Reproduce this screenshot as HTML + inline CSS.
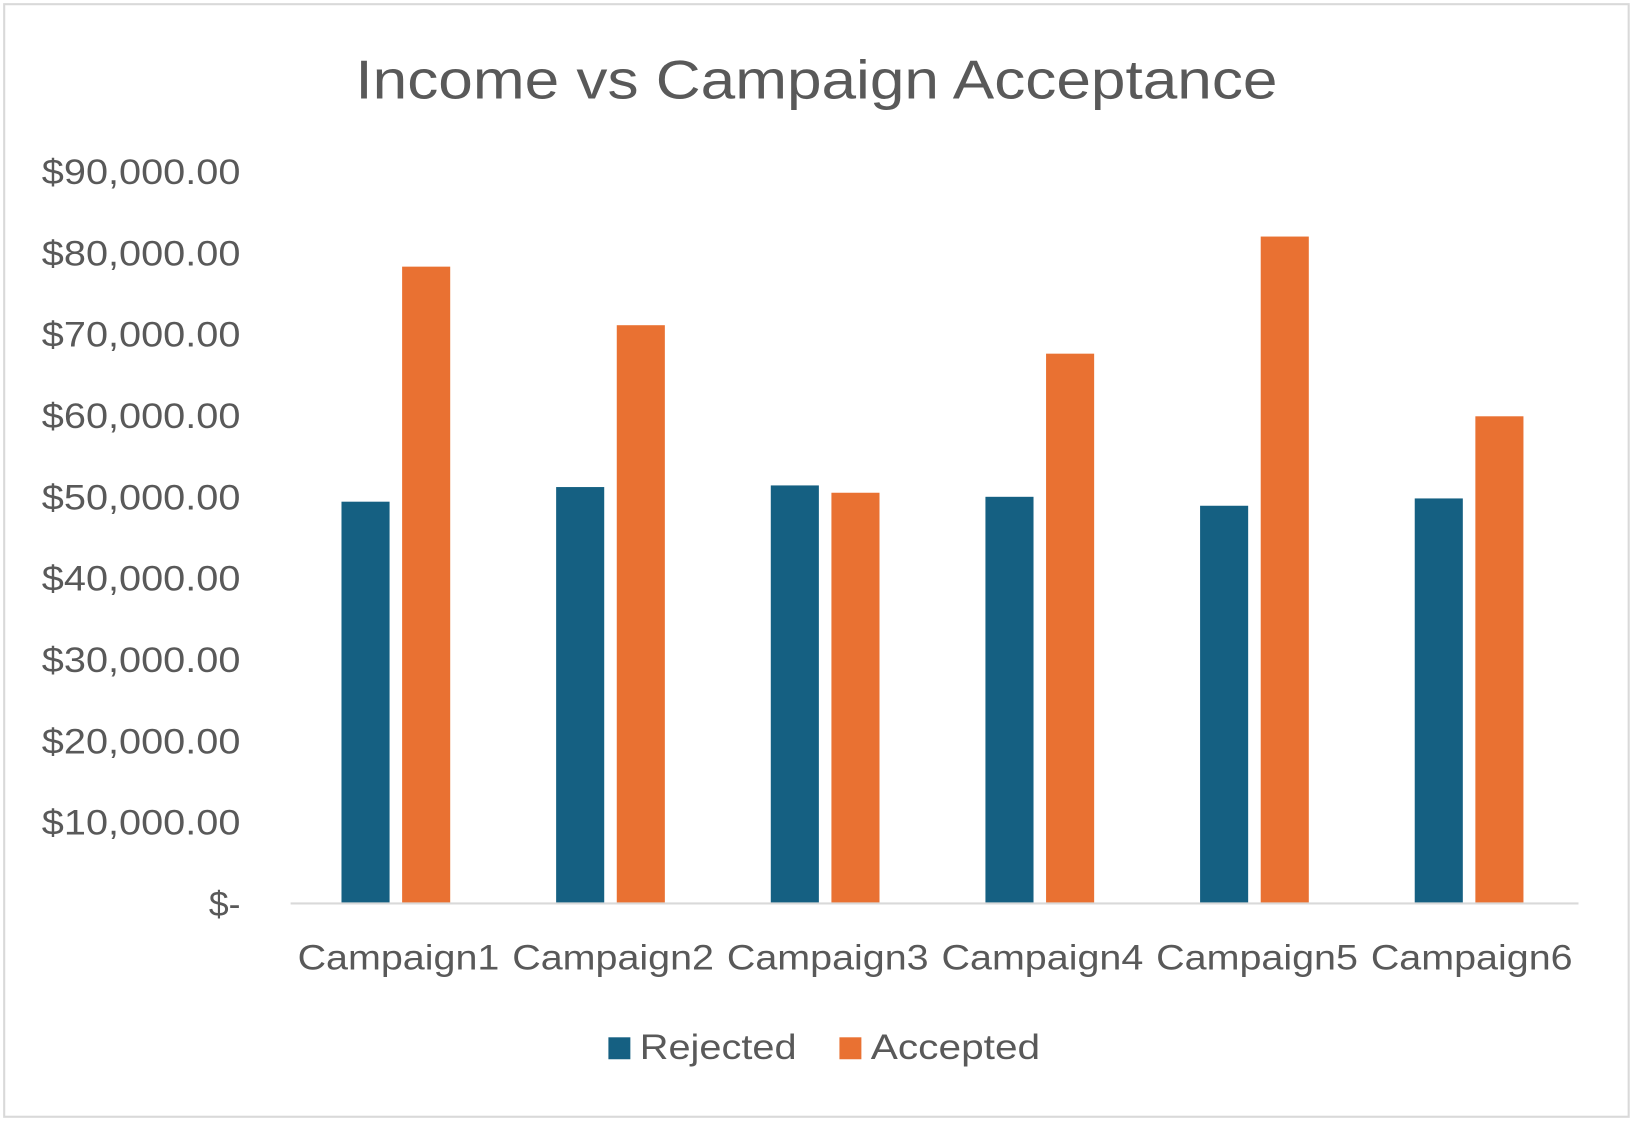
<!DOCTYPE html>
<html><head><meta charset="utf-8"><style>
html,body{margin:0;padding:0;background:#fff;}
svg{display:block;}
text{font-family:"Liberation Sans",sans-serif;fill:#595959;}
</style></head><body>
<svg id="chart" width="1636" height="1122" viewBox="0 0 1565 1073" preserveAspectRatio="none" xmlns="http://www.w3.org/2000/svg">
<rect x="4" y="4" width="1554" height="1064" fill="#fff" stroke="#d9d9d9" stroke-width="2"/>
<text x="340" y="94" font-size="52" textLength="882" lengthAdjust="spacingAndGlyphs">Income vs Campaign Acceptance</text>
<g id="yaxis"></g>
<g id="bars"></g>
<line x1="278" y1="864" x2="1510" y2="864" stroke="#d9d9d9" stroke-width="2"/>
<g id="xaxis"></g>
<g>
<rect x="582" y="992" width="21" height="21" fill="#156082"/>
<text x="612" y="1013" font-size="34" textLength="150" lengthAdjust="spacingAndGlyphs">Rejected</text>
<rect x="803" y="992" width="21" height="21" fill="#e97132"/>
<text x="833" y="1013" font-size="34" textLength="162" lengthAdjust="spacingAndGlyphs">Accepted</text>
</g>
</svg>
<script>
const categories=["Campaign1","Campaign2","Campaign3","Campaign4","Campaign5","Campaign6"];
const rejected=[49400,51200,51400,50000,48900,49800];
const accepted=[78300,71100,50500,67600,82000,59900];
const yTicks=[0,10000,20000,30000,40000,50000,60000,70000,80000,90000];
const yTickLabels=["$-","$10,000.00","$20,000.00","$30,000.00","$40,000.00","$50,000.00","$60,000.00","$70,000.00","$80,000.00","$90,000.00"];
const NS="http://www.w3.org/2000/svg";
const x0=278,x1=1510,yZero=864,yTop=164,yMax=90000;
function y(v){return yZero-(v/yMax)*(yZero-yTop);}
function band(i){return x0+(x1-x0)/categories.length*i;}
const bw=(x1-x0)/categories.length;
const ya=document.getElementById('yaxis');
yTicks.forEach((t,i)=>{
 const e=document.createElementNS(NS,'text');
 
 
 e.setAttribute('x',230);e.setAttribute('y',y(t)+12);
 e.setAttribute('font-size','34');e.setAttribute('text-anchor','end');
 if(yTickLabels[i].length>5){e.setAttribute('textLength','190');e.setAttribute('lengthAdjust','spacingAndGlyphs');}
 e.textContent=yTickLabels[i];ya.appendChild(e);
});
const bg=document.getElementById('bars'),xa=document.getElementById('xaxis');
categories.forEach((c,i)=>{
 const cx=band(i)+bw/2;
 [[rejected,'#156082',-54,'bar-rejected'],[accepted,'#e97132',4,'bar-accepted']].forEach(s=>{
  const r=document.createElementNS(NS,'rect');
  
  
  r.setAttribute('x',cx+s[2]);r.setAttribute('width',46);
  r.setAttribute('y',y(s[0][i]));r.setAttribute('height',yZero-y(s[0][i]));
  r.setAttribute('fill',s[1]);bg.appendChild(r);
 });
 const t=document.createElementNS(NS,'text');
 
 
 t.setAttribute('x',cx-96);t.setAttribute('y',927);
 t.setAttribute('font-size','34');
 t.setAttribute('textLength','193');t.setAttribute('lengthAdjust','spacingAndGlyphs');
 t.textContent=c;xa.appendChild(t);
});
</script>
</body></html>
